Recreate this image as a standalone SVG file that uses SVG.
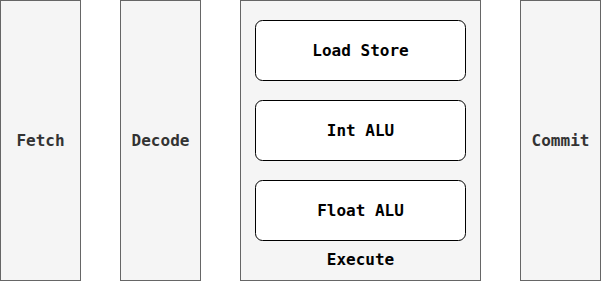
<svg xmlns="http://www.w3.org/2000/svg" width="601" height="281" viewBox="0 0 601 281">
<style>
.stage{fill:#f5f5f5;stroke:#666666;stroke-width:1}
.unit{fill:#ffffff;stroke:#000000;stroke-width:1}
.t{font-family:"DejaVu Sans Mono","Liberation Mono",monospace;font-weight:bold;font-size:16px;text-anchor:middle;dominant-baseline:central}
.g{fill:#333333}
.k{fill:#000000}
</style>
<rect width="601" height="281" fill="#ffffff"/>
<g id="fetch"><rect class="stage" x="0.5" y="0.5" width="80" height="280"/><text class="t g" x="40.5" y="140.5">Fetch</text></g>
<g id="decode"><rect class="stage" x="120.5" y="0.5" width="80" height="280"/><text class="t g" x="160.5" y="140.5">Decode</text></g>
<g id="execute"><rect class="stage" x="240.5" y="0.5" width="240" height="280"/><text class="t k" x="360.5" y="259.5">Execute</text></g>
<g id="loadstore"><rect class="unit" x="255.5" y="20.5" width="210" height="60" rx="7"/><text class="t k" x="360.5" y="50.5">Load Store</text></g>
<g id="intalu"><rect class="unit" x="255.5" y="100.5" width="210" height="60" rx="7"/><text class="t k" x="360.5" y="130.5">Int ALU</text></g>
<g id="floatalu"><rect class="unit" x="255.5" y="180.5" width="210" height="60" rx="7"/><text class="t k" x="360.5" y="210.5">Float ALU</text></g>
<g id="commit"><rect class="stage" x="520.5" y="0.5" width="80" height="280"/><text class="t g" x="560.5" y="140.5">Commit</text></g>
<g id="connectors"></g>
</svg>
